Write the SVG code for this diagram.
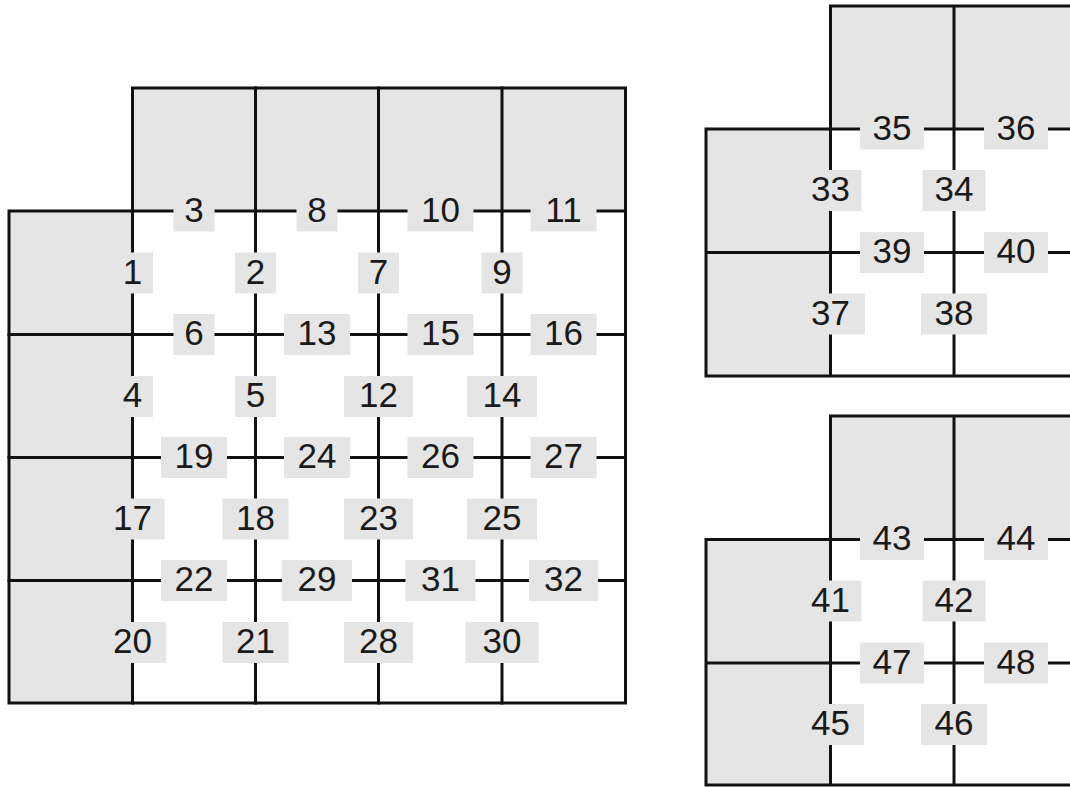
<svg xmlns="http://www.w3.org/2000/svg" width="1070" height="787" viewBox="0 0 1070 787">
<style>
.bg{fill:#ffffff}
.grey{fill:#e5e5e5;stroke:none}
.ln{fill:none;stroke:#111111;stroke-width:3;stroke-linecap:square}
.lbl rect{fill:#e5e5e5;stroke:none}
.lbl text{font-family:"Liberation Sans",Arial,sans-serif;font-size:35px;fill:#1a1a1a;text-anchor:middle}
</style>
<rect class="bg" x="0" y="0" width="1070" height="787"/>
<g id="fills">
<rect class="grey" x="132.5" y="88" width="493" height="123"/>
<rect class="grey" x="9" y="211" width="123.5" height="492"/>
<rect class="grey" x="830.5" y="6" width="245" height="123"/>
<rect class="grey" x="706" y="129" width="124.5" height="247"/>
<rect class="grey" x="830.5" y="416" width="245" height="123.5"/>
<rect class="grey" x="706" y="539.5" width="124.5" height="246"/>
</g>
<g id="connectors">
<path class="ln" d="M9,211 H132.5 V88 H625.5 V703 H9 Z"/>
<path class="ln" d="M132.5,211 V703 M255.5,88 V703 M378.5,88 V703 M502,88 V703"/>
<path class="ln" d="M132.5,211 H625.5 M9,334.5 H625.5 M9,457.5 H625.5 M9,580.5 H625.5"/>
<path class="ln" d="M706,129 H830.5 V6 H1075 M706,129 V376 H1075 M830.5,129 V376 M954,6 V376 M830.5,129 H1075 M706,252.5 H1075"/>
<path class="ln" d="M706,539.5 H830.5 V416 H1075 M706,539.5 V785 H1075 M830.5,539.5 V785 M954,416 V785 M830.5,539.5 H1075 M706,663 H1075"/>
</g>
<g id="n3" class="lbl"><rect x="173.5" y="190.5" width="41" height="41"/><text x="194" y="221.5">3</text></g>
<g id="n8" class="lbl"><rect x="296.5" y="190.5" width="41" height="41"/><text x="317" y="221.5">8</text></g>
<g id="n10" class="lbl"><rect x="407.5" y="190.5" width="66" height="41"/><text x="440.5" y="221.5">10</text></g>
<g id="n11" class="lbl"><rect x="530.5" y="190.5" width="66" height="41"/><text x="563.5" y="221.5">11</text></g>
<g id="n1" class="lbl"><rect x="112" y="252.5" width="41" height="41"/><text x="132.5" y="283.5">1</text></g>
<g id="n2" class="lbl"><rect x="235" y="252.5" width="41" height="41"/><text x="255.5" y="283.5">2</text></g>
<g id="n7" class="lbl"><rect x="358" y="252.5" width="41" height="41"/><text x="378.5" y="283.5">7</text></g>
<g id="n9" class="lbl"><rect x="481.5" y="252.5" width="41" height="41"/><text x="502" y="283.5">9</text></g>
<g id="n6" class="lbl"><rect x="173.5" y="314" width="41" height="41"/><text x="194" y="345">6</text></g>
<g id="n13" class="lbl"><rect x="284" y="314" width="66" height="41"/><text x="317" y="345">13</text></g>
<g id="n15" class="lbl"><rect x="407.5" y="314" width="66" height="41"/><text x="440.5" y="345">15</text></g>
<g id="n16" class="lbl"><rect x="530.5" y="314" width="66" height="41"/><text x="563.5" y="345">16</text></g>
<g id="n4" class="lbl"><rect x="112" y="376" width="41" height="41"/><text x="132.5" y="407">4</text></g>
<g id="n5" class="lbl"><rect x="235" y="376" width="41" height="41"/><text x="255.5" y="407">5</text></g>
<g id="n12" class="lbl"><rect x="344" y="376" width="69" height="41"/><text x="378.5" y="407">12</text></g>
<g id="n14" class="lbl"><rect x="467" y="376" width="70" height="41"/><text x="502" y="407">14</text></g>
<g id="n19" class="lbl"><rect x="161" y="437" width="66" height="41"/><text x="194" y="468">19</text></g>
<g id="n24" class="lbl"><rect x="284" y="437" width="66" height="41"/><text x="317" y="468">24</text></g>
<g id="n26" class="lbl"><rect x="407.5" y="437" width="66" height="41"/><text x="440.5" y="468">26</text></g>
<g id="n27" class="lbl"><rect x="530.5" y="437" width="66" height="41"/><text x="563.5" y="468">27</text></g>
<g id="n17" class="lbl"><rect x="100.5" y="498.5" width="64" height="41"/><text x="132.5" y="529.5">17</text></g>
<g id="n18" class="lbl"><rect x="222.5" y="498.5" width="66" height="41"/><text x="255.5" y="529.5">18</text></g>
<g id="n23" class="lbl"><rect x="344" y="498.5" width="69" height="41"/><text x="378.5" y="529.5">23</text></g>
<g id="n25" class="lbl"><rect x="467" y="498.5" width="70" height="41"/><text x="502" y="529.5">25</text></g>
<g id="n22" class="lbl"><rect x="161" y="560" width="66" height="41"/><text x="194" y="591">22</text></g>
<g id="n29" class="lbl"><rect x="282" y="560" width="70" height="41"/><text x="317" y="591">29</text></g>
<g id="n31" class="lbl"><rect x="405.5" y="560" width="70" height="41"/><text x="440.5" y="591">31</text></g>
<g id="n32" class="lbl"><rect x="529" y="560" width="69" height="41"/><text x="563.5" y="591">32</text></g>
<g id="n20" class="lbl"><rect x="99" y="622" width="67" height="41"/><text x="132.5" y="653">20</text></g>
<g id="n21" class="lbl"><rect x="222.5" y="622" width="66" height="41"/><text x="255.5" y="653">21</text></g>
<g id="n28" class="lbl"><rect x="344" y="622" width="69" height="41"/><text x="378.5" y="653">28</text></g>
<g id="n30" class="lbl"><rect x="465.5" y="622" width="73" height="41"/><text x="502" y="653">30</text></g>
<g id="n35" class="lbl"><rect x="860" y="108.5" width="64" height="41"/><text x="892" y="139.5">35</text></g>
<g id="n36" class="lbl"><rect x="984" y="108.5" width="64" height="41"/><text x="1016" y="139.5">36</text></g>
<g id="n33" class="lbl"><rect x="799.5" y="170" width="62" height="41"/><text x="830.5" y="201">33</text></g>
<g id="n34" class="lbl"><rect x="922.5" y="170" width="63" height="41"/><text x="954" y="201">34</text></g>
<g id="n39" class="lbl"><rect x="860" y="232" width="64" height="41"/><text x="892" y="263">39</text></g>
<g id="n40" class="lbl"><rect x="984" y="232" width="64" height="41"/><text x="1016" y="263">40</text></g>
<g id="n37" class="lbl"><rect x="796" y="293.5" width="69" height="41"/><text x="830.5" y="324.5">37</text></g>
<g id="n38" class="lbl"><rect x="921" y="293.5" width="66" height="41"/><text x="954" y="324.5">38</text></g>
<g id="n43" class="lbl"><rect x="860" y="519" width="64" height="41"/><text x="892" y="550">43</text></g>
<g id="n44" class="lbl"><rect x="984" y="519" width="64" height="41"/><text x="1016" y="550">44</text></g>
<g id="n41" class="lbl"><rect x="799.5" y="580.5" width="62" height="41"/><text x="830.5" y="611.5">41</text></g>
<g id="n42" class="lbl"><rect x="922.5" y="580.5" width="63" height="41"/><text x="954" y="611.5">42</text></g>
<g id="n47" class="lbl"><rect x="860" y="642.5" width="64" height="41"/><text x="892" y="673.5">47</text></g>
<g id="n48" class="lbl"><rect x="984" y="642.5" width="64" height="41"/><text x="1016" y="673.5">48</text></g>
<g id="n45" class="lbl"><rect x="797" y="704" width="67" height="41"/><text x="830.5" y="735">45</text></g>
<g id="n46" class="lbl"><rect x="921" y="704" width="66" height="41"/><text x="954" y="735">46</text></g>
</svg>
